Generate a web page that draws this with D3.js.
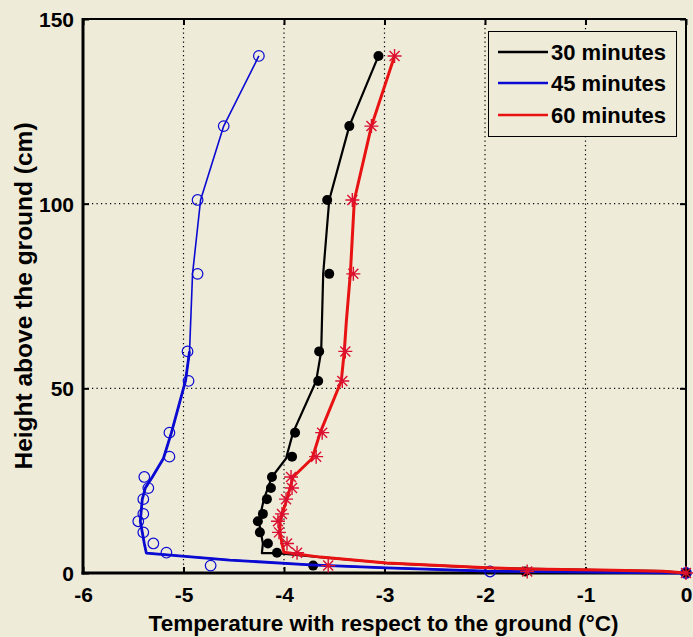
<!DOCTYPE html>
<html>
<head>
<meta charset="utf-8">
<script src="https://cdn.jsdelivr.net/npm/d3@7/dist/d3.min.js"></script>
<style>
html,body{margin:0;padding:0;background:#efebd9;}
svg{display:block;}
text{font-family:"Liberation Sans",Arial,sans-serif;font-weight:bold;fill:#000;}
</style>
</head>
<body>
<svg id="chart" width="693" height="637"></svg>
<script>
// ---- data ----
const heights = [140,121,101,81,60,52,38,31.5,26,23,20,16,14,11,8,5.5,2,0.4,0];
const temp30 = [-3.06,-3.35,-3.57,-3.55,-3.65,-3.66,-3.89,-3.92,-4.12,-4.13,-4.17,-4.21,-4.26,-4.24,-4.16,-4.07,-3.71,-1.6,0];
const temp45 = [-4.25,-4.60,-4.86,-4.86,-4.96,-4.95,-5.14,-5.14,-5.39,-5.35,-5.40,-5.40,-5.45,-5.40,-5.30,-5.17,-4.73,-1.95,0];
const temp60 = [-2.90,-3.13,-3.32,-3.31,-3.39,-3.42,-3.62,-3.68,-3.93,-3.92,-3.98,-4.02,-4.06,-4.05,-3.97,-3.87,-3.56,-1.58,0];

// fitted curves drawn through the points
const fit30H = [140,121,101,81,60,52,38,31,26,20,14,11,8,5.4,5.4,4.3,2.7,1.4,0.8,0.5,0];
const fit30T = [-3.06,-3.35,-3.55,-3.61,-3.63,-3.68,-3.91,-3.98,-4.12,-4.20,-4.25,-4.23,-4.21,-4.22,-4.07,-3.64,-2.98,-1.98,-0.86,-0.23,0];
const fit45H = [140,121,101,81,60,52,38,31,26,23,20,14,8,5.4,3.5,2.2,1.4,0.5,0];
const fit45T = [-4.25,-4.60,-4.83,-4.91,-4.94,-4.98,-5.12,-5.20,-5.31,-5.38,-5.41,-5.43,-5.39,-5.37,-4.54,-3.74,-2.98,-1.98,0];
const fit60H = [140,121,101,81,68,60,52,38,31,26,23,20,16,14,11,8,5.6,4.3,2.7,1.4,1.1,0.8,0.5,0];
const fit60T = [-2.90,-3.13,-3.30,-3.34,-3.38,-3.40,-3.43,-3.64,-3.72,-3.91,-3.94,-3.97,-4.02,-4.04,-4.04,-4.02,-4.00,-3.64,-2.98,-1.98,-1.58,-0.86,-0.23,0];

const seriesNames = ["30 minutes","45 minutes","60 minutes"];
const xTicks = [-6,-5,-4,-3,-2,-1,0];
const yTicks = [0,50,100,150];
const xLabel = "Temperature with respect to the ground (\u00B0C)";
const yLabel = "Height above the ground (cm)";

// ---- layout ----
const L = 83, R = 686, T = 19, B = 573;
const svg = d3.select("#chart");
const x = d3.scaleLinear().domain([-6,0]).range([L,R]);
const y = d3.scaleLinear().domain([0,150]).range([B,T]);

svg.append("rect").attr("width",693).attr("height",637).attr("fill","#efebd9");

// grid
const grid = svg.append("g").attr("stroke","#000").attr("stroke-width",1.2).attr("stroke-dasharray","1.2,3.3");
grid.selectAll("line.gx").data(xTicks.slice(1,-1)).join("line")
  .attr("x1",d=>x(d)).attr("x2",d=>x(d)).attr("y1",T).attr("y2",B);
grid.selectAll("line.gy").data(yTicks.slice(1,-1)).join("line")
  .attr("x1",L).attr("x2",R).attr("y1",d=>y(d)).attr("y2",d=>y(d));

// axes (inward ticks on all sides)
const fmt = d=>String(d);
const axB = svg.append("g").attr("transform",`translate(0,${B})`)
  .call(d3.axisBottom(x).tickValues(xTicks).tickSize(-6).tickPadding(14).tickFormat(fmt));
const axT = svg.append("g").attr("transform",`translate(0,${T})`)
  .call(d3.axisTop(x).tickValues(xTicks).tickSize(-6).tickFormat(""));
const axL = svg.append("g").attr("transform",`translate(${L},0)`)
  .call(d3.axisLeft(y).tickValues(yTicks).tickSize(-6).tickPadding(9).tickFormat(fmt));
const axR = svg.append("g").attr("transform",`translate(${R},0)`)
  .call(d3.axisRight(y).tickValues(yTicks).tickSize(-6).tickFormat(""));
[axB,axT,axL,axR].forEach(g=>{
  g.select(".domain").remove();
  g.selectAll(".tick line").attr("stroke","#000").attr("stroke-width",2);
  g.selectAll("text").style("font-size","21px").style("font-family","'Liberation Sans',Arial,sans-serif").style("font-weight","bold").attr("fill","#000");
});
axL.selectAll("text").attr("dy","0.35em");

// frame
svg.append("line").attr("x1",L).attr("x2",R).attr("y1",T).attr("y2",T).attr("stroke","#000").attr("stroke-width",2);
svg.append("line").attr("x1",R).attr("x2",R).attr("y1",T).attr("y2",B).attr("stroke","#000").attr("stroke-width",2);
svg.append("line").attr("x1",L).attr("x2",L).attr("y1",T-1).attr("y2",B+1.5).attr("stroke","#000").attr("stroke-width",3);
svg.append("line").attr("x1",L-1.5).attr("x2",R+1).attr("y1",B).attr("y2",B).attr("stroke","#000").attr("stroke-width",3);

// lines
const line = d3.line().x(d=>x(d[0])).y(d=>y(d[1]));
const zip = (t,h)=>t.map((v,i)=>[v,h[i]]);
const colors = ["#000000","#0a0ad2","#e81212"];
const plot = svg.append("g");

plot.append("path").datum(zip(fit30T,fit30H)).attr("d",line).attr("fill","none")
  .attr("stroke",colors[0]).attr("stroke-width",2.2).attr("stroke-linejoin","round");
// black markers
plot.selectAll("circle.b").data(zip(temp30,heights)).join("circle")
  .attr("cx",d=>x(d[0])).attr("cy",d=>y(d[1])).attr("r",5).attr("fill","#000");

const blue = zip(fit45T,fit45H);
plot.append("path").datum(blue).attr("d",line).attr("fill","none")
  .attr("stroke",colors[1]).attr("stroke-width",1.6).attr("stroke-linejoin","round");
plot.append("path").datum(blue.filter(d=>d[1]<=60)).attr("d",line).attr("fill","none")
  .attr("stroke",colors[1]).attr("stroke-width",2.8).attr("stroke-linejoin","round");
plot.selectAll("circle.o").data(zip(temp45,heights)).join("circle")
  .attr("cx",d=>x(d[0])).attr("cy",d=>y(d[1])).attr("r",5.3)
  .attr("fill","none").attr("stroke",colors[1]).attr("stroke-width",1.2);

plot.append("path").datum(zip(fit60T,fit60H)).attr("d",line).attr("fill","none")
  .attr("stroke",colors[2]).attr("stroke-width",3).attr("stroke-linejoin","round");
// red asterisks
const star = "M-7,0L7,0M0,-7L0,7M-5,-5L5,5M-5,5L5,-5";
plot.selectAll("path.s").data(zip(temp60,heights)).join("path")
  .attr("transform",d=>`translate(${x(d[0])},${y(d[1])})`)
  .attr("d",star).attr("stroke","#dc1030").attr("stroke-width",1.4).attr("fill","none");

// axis labels
svg.append("text").attr("x",(L+R)/2-1).attr("y",631).attr("text-anchor","middle")
  .style("font-size","22.5px").text(xLabel);
svg.append("text").attr("transform","translate(32,296) rotate(-90)").attr("text-anchor","middle")
  .style("font-size","24.5px").text(yLabel);

// legend
const lg = svg.append("g");
lg.append("rect").attr("x",488.5).attr("y",31.5).attr("width",188).attr("height",105)
  .attr("fill","#efebd9").attr("stroke","#000").attr("stroke-width",1);
const rowY = [52,83,115];
seriesNames.forEach((n,i)=>{
  lg.append("line").attr("x1",498).attr("x2",548).attr("y1",rowY[i]).attr("y2",rowY[i])
    .attr("stroke",colors[i]).attr("stroke-width",2.5);
  lg.append("text").attr("x",551).attr("y",rowY[i]+8).style("font-size","22px").text(n);
});
</script>
</body>
</html>
